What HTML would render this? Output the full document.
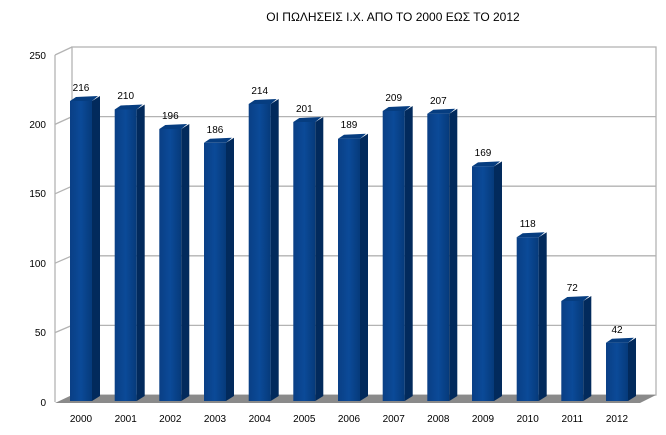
<!DOCTYPE html>
<html><head><meta charset="utf-8"><style>
html,body{margin:0;padding:0;background:#fff;}
svg{display:block;font-family:"Liberation Sans",sans-serif;}
</style></head><body>
<svg width="666" height="435" viewBox="0 0 666 435">
<defs>
<linearGradient id="f" x1="0" x2="1" y1="0" y2="0">
<stop offset="0" stop-color="#0a3f85"/><stop offset="0.5" stop-color="#0b4a98"/><stop offset="1" stop-color="#063a7a"/>
</linearGradient>
</defs>
<text x="393" y="21" font-size="12" text-anchor="middle" fill="#000">ΟΙ ΠΩΛΗΣΕΙΣ Ι.Χ. ΑΠΟ ΤΟ 2000 ΕΩΣ ΤΟ 2012</text>
<g stroke="#b3b3b3" stroke-width="1.3" fill="none">
<rect x="72" y="47" width="584" height="348"/>
<line x1="72" y1="116.6" x2="656" y2="116.6"/>
<line x1="72" y1="186.2" x2="656" y2="186.2"/>
<line x1="72" y1="255.8" x2="656" y2="255.8"/>
<line x1="72" y1="325.4" x2="656" y2="325.4"/>
<line x1="55" y1="55" x2="72" y2="47"/>
<line x1="55" y1="124.4" x2="72" y2="116.6"/>
<line x1="55" y1="193.8" x2="72" y2="186.2"/>
<line x1="55" y1="263.2" x2="72" y2="255.8"/>
<line x1="55" y1="332.6" x2="72" y2="325.4"/>
<line x1="55" y1="55" x2="55" y2="402"/>
</g>
<polygon points="55,403 640,403 656,395 72,395" fill="#8a8a8a"/>
<g font-size="10" fill="#000" text-anchor="end">
<text x="46" y="59">250</text><text x="46" y="128">200</text><text x="46" y="197">150</text>
<text x="46" y="267">100</text><text x="46" y="336">50</text><text x="46" y="406">0</text>
</g>
<g id="bars">
<g transform="translate(70,101)"><rect width="22" height="300" fill="url(#f)"/><polygon points="22,0 30,-5 30,295 22,300" fill="#022a5c"/><polygon points="0,0 6,-4 28,-5 22,0" fill="#063d80"/></g>
<g transform="translate(114.7,109.5)"><rect width="22" height="291.5" fill="url(#f)"/><polygon points="22,0 30,-5 30,286.5 22,291.5" fill="#022a5c"/><polygon points="0,0 6,-4 28,-5 22,0" fill="#063d80"/></g>
<g transform="translate(159.3,129)"><rect width="22" height="272" fill="url(#f)"/><polygon points="22,0 30,-5 30,267 22,272" fill="#022a5c"/><polygon points="0,0 6,-4 28,-5 22,0" fill="#063d80"/></g>
<g transform="translate(204,142.8)"><rect width="22" height="258.2" fill="url(#f)"/><polygon points="22,0 30,-5 30,253.2 22,258.2" fill="#022a5c"/><polygon points="0,0 6,-4 28,-5 22,0" fill="#063d80"/></g>
<g transform="translate(248.7,104)"><rect width="22" height="297" fill="url(#f)"/><polygon points="22,0 30,-5 30,292 22,297" fill="#022a5c"/><polygon points="0,0 6,-4 28,-5 22,0" fill="#063d80"/></g>
<g transform="translate(293.3,122)"><rect width="22" height="279" fill="url(#f)"/><polygon points="22,0 30,-5 30,274 22,279" fill="#022a5c"/><polygon points="0,0 6,-4 28,-5 22,0" fill="#063d80"/></g>
<g transform="translate(338,138.7)"><rect width="22" height="262.3" fill="url(#f)"/><polygon points="22,0 30,-5 30,257.3 22,262.3" fill="#022a5c"/><polygon points="0,0 6,-4 28,-5 22,0" fill="#063d80"/></g>
<g transform="translate(382.7,111)"><rect width="22" height="290" fill="url(#f)"/><polygon points="22,0 30,-5 30,285 22,290" fill="#022a5c"/><polygon points="0,0 6,-4 28,-5 22,0" fill="#063d80"/></g>
<g transform="translate(427.3,113.7)"><rect width="22" height="287.3" fill="url(#f)"/><polygon points="22,0 30,-5 30,282.3 22,287.3" fill="#022a5c"/><polygon points="0,0 6,-4 28,-5 22,0" fill="#063d80"/></g>
<g transform="translate(472,166.4)"><rect width="22" height="234.6" fill="url(#f)"/><polygon points="22,0 30,-5 30,229.6 22,234.6" fill="#022a5c"/><polygon points="0,0 6,-4 28,-5 22,0" fill="#063d80"/></g>
<g transform="translate(516.7,237.2)"><rect width="22" height="163.8" fill="url(#f)"/><polygon points="22,0 30,-5 30,158.8 22,163.8" fill="#022a5c"/><polygon points="0,0 6,-4 28,-5 22,0" fill="#063d80"/></g>
<g transform="translate(561.3,301)"><rect width="22" height="100" fill="url(#f)"/><polygon points="22,0 30,-5 30,95 22,100" fill="#022a5c"/><polygon points="0,0 6,-4 28,-5 22,0" fill="#063d80"/></g>
<g transform="translate(606,342.7)"><rect width="22" height="58.3" fill="url(#f)"/><polygon points="22,0 30,-5 30,53.3 22,58.3" fill="#022a5c"/><polygon points="0,0 6,-4 28,-5 22,0" fill="#063d80"/></g>
</g>
<g font-size="10" fill="#000" text-anchor="middle">
<text x="81" y="91">216</text><text x="125.7" y="99">210</text><text x="170.3" y="119">196</text>
<text x="215" y="133">186</text><text x="259.7" y="94">214</text><text x="304.3" y="112">201</text>
<text x="349" y="128">189</text><text x="393.7" y="101">209</text><text x="438.3" y="104">207</text>
<text x="483" y="156">169</text><text x="527.7" y="227">118</text><text x="572.3" y="291">72</text>
<text x="617" y="333">42</text>
</g>
<g font-size="10" fill="#000" text-anchor="middle">
<text x="81" y="422">2000</text><text x="125.7" y="422">2001</text><text x="170.3" y="422">2002</text>
<text x="215" y="422">2003</text><text x="259.7" y="422">2004</text><text x="304.3" y="422">2005</text>
<text x="349" y="422">2006</text><text x="393.7" y="422">2007</text><text x="438.3" y="422">2008</text>
<text x="483" y="422">2009</text><text x="527.7" y="422">2010</text><text x="572.3" y="422">2011</text>
<text x="617" y="422">2012</text>
</g>
</svg>
</body></html>
